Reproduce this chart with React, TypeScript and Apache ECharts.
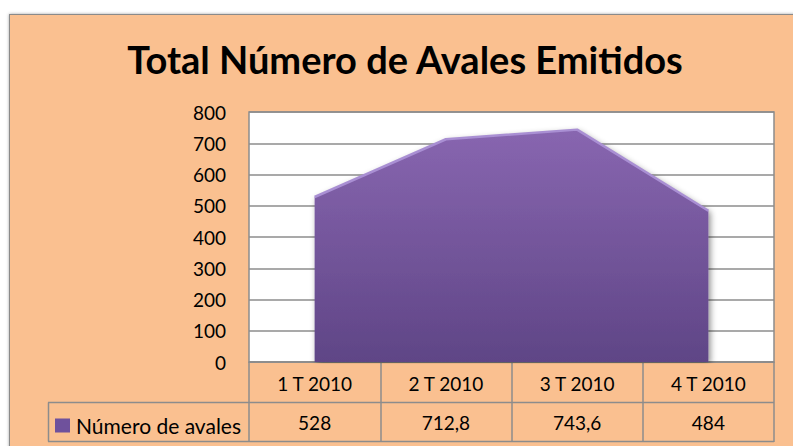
import React, { useEffect, useRef } from "react";
import * as echarts from "echarts";

const categories = ["1 T 2010", "2 T 2010", "3 T 2010", "4 T 2010"];
const seriesName = "Número de avales";
const values = [528, 712.8, 743.6, 484];
const yTicks = { min: 0, max: 800, interval: 100 };
const title = "Total Número de Avales Emitidos";

const FONT = "Lato, 'Open Sans', sans-serif";
const fmt = (v: number) => String(v).replace(".", ",");

export default function App() {
  const ref = useRef<HTMLDivElement>(null);
  useEffect(() => {
    if (!ref.current) return;
    const chart = echarts.init(ref.current, null, { renderer: "svg" });
    const gridColor = "#8c8c8c";
    chart.setOption({
      animation: false,
      backgroundColor: "transparent",
      textStyle: { fontFamily: FONT },
      graphic: [
        {
          type: "text",
          x: 405,
          y: 59,
          style: {
            text: title,
            fontFamily: FONT,
            fontWeight: "bold",
            fontSize: 38,
            fill: "#000",
            textAlign: "center",
            textVerticalAlign: "middle",
          },
        },
        { type: "line", shape: { x1: 48, y1: 402.5, x2: 774, y2: 402.5 }, style: { stroke: gridColor, lineWidth: 1.5 } },
        { type: "line", shape: { x1: 48, y1: 441.5, x2: 774, y2: 441.5 }, style: { stroke: gridColor, lineWidth: 1.5 } },
        { type: "line", shape: { x1: 48.5, y1: 402.5, x2: 48.5, y2: 441.5 }, style: { stroke: gridColor, lineWidth: 1.5 } },
      ],
      legend: {
        left: 55,
        top: 415,
        icon: "rect",
        itemWidth: 15,
        itemHeight: 14,
        itemGap: 6,
        padding: 0,
        textStyle: { fontSize: 21, color: "#000", fontFamily: FONT, padding: [0, 0, 0, 1] },
        data: [seriesName],
      },
      grid: {
        left: 249,
        top: 112,
        right: 19,
        bottom: 84,
        show: true,
        backgroundColor: "#ffffff",
        borderColor: gridColor,
        borderWidth: 1.5,
      },
      xAxis: [
        {
          type: "category",
          data: categories,
          boundaryGap: true,
          position: "bottom",
          axisLine: { show: true, lineStyle: { color: gridColor, width: 1.5 } },
          axisTick: { show: true, length: 80, interval: 0, lineStyle: { color: gridColor, width: 1.5 } },
          axisLabel: { fontSize: 19, color: "#000", margin: 12, fontFamily: FONT, interval: 0 },
        },
        {
          type: "category",
          data: values.map(fmt),
          boundaryGap: true,
          position: "bottom",
          offset: 40,
          axisLine: { show: false },
          axisTick: { show: false },
          axisLabel: { fontSize: 19, color: "#000", margin: 11, fontFamily: FONT, interval: 0 },
        },
      ],
      yAxis: {
        type: "value",
        min: yTicks.min,
        max: yTicks.max,
        interval: yTicks.interval,
        axisLine: { show: false },
        axisTick: { show: false },
        axisLabel: { fontSize: 19, color: "#000", margin: 23, fontFamily: FONT },
        splitLine: { show: true, lineStyle: { color: gridColor, width: 1.5 } },
      },
      series: [
        {
          name: seriesName,
          type: "line",
          data: values,
          symbol: "none",
          itemStyle: { color: "#6f519c" },
          lineStyle: { color: "#a98fd3", width: 2.5 },
          areaStyle: {
            opacity: 1,
            color: new echarts.graphic.LinearGradient(0, 0, 0, 1, [
              { offset: 0, color: "#8866b0" },
              { offset: 1, color: "#5f4586" },
            ]),
            shadowColor: "rgba(0,0,0,0.45)",
            shadowBlur: 6,
            shadowOffsetX: 2,
            shadowOffsetY: 2,
          },
        },
      ],
    });
    return () => chart.dispose();
  }, []);

  return (
    <div style={{ position: "fixed", left: 0, top: 0, width: 793, height: 446, background: "#fff" }}>
      <div
        style={{
          position: "absolute",
          left: 9,
          top: 14,
          width: 800,
          height: 450,
          background: "#fac090",
          border: "1px solid #8a8a8a",
          boxShadow: "0 0 3px rgba(0,0,0,0.35)",
        }}
      />
      <div ref={ref} style={{ position: "absolute", left: 0, top: 0, width: 793, height: 446 }} />
    </div>
  );
}
